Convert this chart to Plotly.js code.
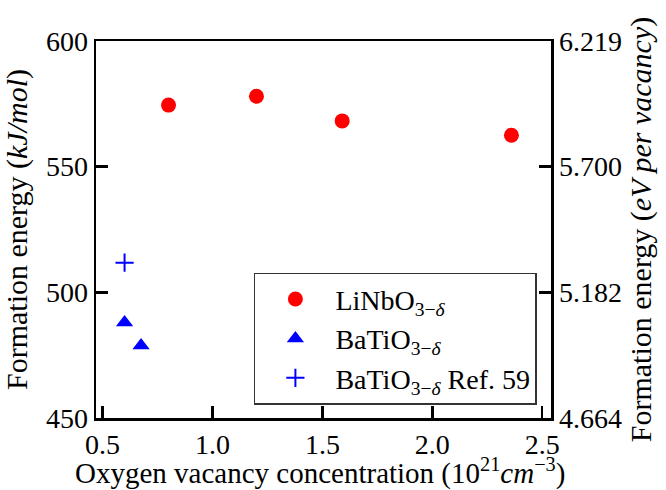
<!DOCTYPE html>
<html>
<head>
<meta charset="utf-8">
<script src="https://cdn.plot.ly/plotly-3.0.1.min.js"></script>
<style>html,body{margin:0;padding:0;background:#fff;}#chart{width:666px;height:490px;}</style>
</head>
<body>
<div id="chart"></div>
<script>
// Data
const linbo3X = [0.80, 1.20, 1.59, 2.36];
const linbo3Y = [574.5, 578.0, 568.2, 562.5];
const batio3X = [0.60, 0.675];
const batio3Y = [488.0, 478.8];
const refX = [0.60];
const refY = [511.8];
const leftTicks = [450, 500, 550, 600];
const xTicks = [0.5, 1.0, 1.5, 2.0, 2.5];
const xTickLabels = ['0.5', '1.0', '1.5', '2.0', '2.5'];
const rightTickLabels = ['4.664', '5.182', '5.700', '6.219'];
const kjPerEv = 96.485;

const FONT = 'Liberation Serif, Times New Roman, serif';

const traces = [
  {x: linbo3X, y: linbo3Y, type: 'scatter', mode: 'markers', legendgroup: 'a',
   name: 'LiNbO<sub>3−<i>δ</i></sub>',
   marker: {color: '#ff0000', size: 15, symbol: 'circle'}},
  {x: batio3X, y: batio3Y, type: 'scatter', mode: 'markers', legendgroup: 'b',
   name: 'BaTiO<sub>3−<i>δ</i></sub>',
   marker: {color: '#0000ff', size: 15, symbol: 'triangle-up'}},
  {x: refX, y: refY, type: 'scatter', mode: 'markers', legendgroup: 'c',
   name: 'BaTiO<sub>3−<i>δ</i></sub> Ref. 59',
   marker: {color: '#0000ff', size: 13, symbol: 'cross-thin', line: {color: '#0000ff', width: 2}}},
  {x: [], y: [], type: 'scatter', mode: 'markers', yaxis: 'y2', showlegend: false, hoverinfo: 'skip'}
];

const layout = {
  width: 666, height: 490,
  margin: {l: 96, r: 115, t: 41, b: 72},
  paper_bgcolor: '#fff', plot_bgcolor: '#fff',
  font: {family: FONT, size: 28, color: '#000'},
  showlegend: true,
  legend: {
    x: 0.969, y: 0.035, xanchor: 'right', yanchor: 'bottom',
    bgcolor: 'rgba(255,255,255,0.9)', bordercolor: '#333', borderwidth: 1.5,
    font: {family: FONT, size: 28, color: '#000'},
    itemwidth: 70, traceorder: 'grouped', tracegroupgap: 0
  },
  annotations: [{
    text: 'Oxygen vacancy concentration (10<sup>21</sup><i>cm</i><sup>−3</sup>)',
    xref: 'paper', yref: 'paper', x: 0.492, y: -0.141,
    xanchor: 'center', yanchor: 'middle', showarrow: false,
    font: {family: FONT, size: 29, color: '#000'}
  }],
  xaxis: {
    range: [0.47, 2.54], tickvals: xTicks, ticktext: xTickLabels,
    ticks: 'inside', ticklen: 12, tickwidth: 2.5, tickcolor: '#000',
    showline: true, linewidth: 2.5, linecolor: '#000', mirror: true,
    showgrid: false, zeroline: false,
    tickfont: {family: FONT, size: 28}
  },
  yaxis: {
    range: [450, 600], tickvals: leftTicks,
    ticks: 'inside', ticklen: 12, tickwidth: 2.5, tickcolor: '#000',
    showline: true, linewidth: 2.5, linecolor: '#000', mirror: true,
    showgrid: false, zeroline: false,
    tickfont: {family: FONT, size: 28},
    title: {text: 'Formation energy (<i>kJ/mol</i>)', font: {family: FONT, size: 30}}
  },
  yaxis2: {
    overlaying: 'y', side: 'right',
    range: [leftTicks[0] / kjPerEv, leftTicks[3] / kjPerEv],
    tickvals: leftTicks.map(v => v / kjPerEv), ticktext: rightTickLabels,
    ticks: 'inside', ticklen: 12, tickwidth: 2.5, tickcolor: '#000',
    showline: true, linewidth: 2.5, linecolor: '#000',
    showgrid: false, zeroline: false,
    tickfont: {family: FONT, size: 28},
    title: {text: 'Formation energy (<i>eV per vacancy</i>)', font: {family: FONT, size: 30}}
  }
};

Plotly.newPlot('chart', traces, layout, {displayModeBar: false, staticPlot: true});
</script>
</body>
</html>
